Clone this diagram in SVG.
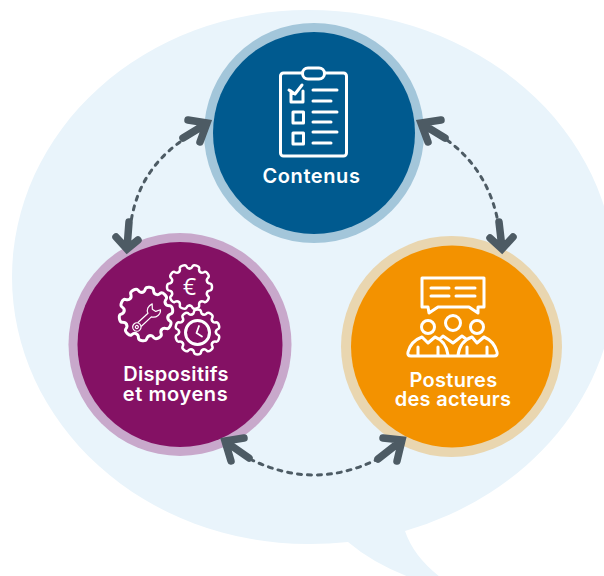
<svg xmlns="http://www.w3.org/2000/svg" xmlns:xlink="http://www.w3.org/1999/xlink" width="604" height="576" viewBox="0 0 604 576">
<style>
.lbl{font-family:Inter,"Noto Sans",sans-serif;font-weight:600;font-size:20px;letter-spacing:.3px;fill:#fff;text-anchor:middle}
.ic{fill:none;stroke:#fff;stroke-width:3;stroke-linecap:round;stroke-linejoin:round}
.thin{fill:none;stroke:#fff;stroke-width:1.2;stroke-linejoin:round}
.gear{fill:none;stroke:#fff;stroke-width:11;stroke-linecap:round;stroke-linejoin:round}
.dash{fill:none;stroke:#4d5b64;stroke-width:3;stroke-linecap:round;stroke-dasharray:4 6}
.head{fill:none;stroke:#4d5b64;stroke-width:7.5;stroke-linecap:round;stroke-linejoin:miter}
</style>
<defs>
<path id="tooth" d="M-25 -78 Q-17 -79 -15 -93 Q-13 -100 0 -100 Q13 -100 15 -93 Q17 -79 25 -78"/>
<g id="gearShape" class="gear">
<use xlink:href="#tooth" href="#tooth"/>
<use xlink:href="#tooth" href="#tooth" transform="rotate(36)"/>
<use xlink:href="#tooth" href="#tooth" transform="rotate(72)"/>
<use xlink:href="#tooth" href="#tooth" transform="rotate(108)"/>
<use xlink:href="#tooth" href="#tooth" transform="rotate(144)"/>
<use xlink:href="#tooth" href="#tooth" transform="rotate(180)"/>
<use xlink:href="#tooth" href="#tooth" transform="rotate(216)"/>
<use xlink:href="#tooth" href="#tooth" transform="rotate(252)"/>
<use xlink:href="#tooth" href="#tooth" transform="rotate(288)"/>
<use xlink:href="#tooth" href="#tooth" transform="rotate(324)"/>
</g>
</defs>
<path id="bubble" fill="#e9f4fb" d="M12 277A296 267 0 0 1 308 10A307 267 0 0 1 615 277A307 267 0 0 1 405 531Q414 558 444 580L417 580Q375 565 348 542A307 267 0 0 1 308 544A296 267 0 0 1 12 277Z"/>
<g id="node-contenus">
<circle cx="314" cy="133" r="110" fill="#a3c6da"/>
<circle cx="314" cy="133" r="101" fill="#005a8f"/>
<rect class="ic" x="280.500" y="73" width="66" height="83" rx="3"/>
<rect class="ic" x="302.500" y="68" width="22" height="11" rx="5.500" style="fill:#005a8f"/>
<path class="ic" d="M291 91V102H303V91M289 90L295 94L302 85M293 112H303.500V123H293ZM293 133H303.500V144H293ZM313 90H337M313 101H331M313 112H337M313 122H331M313 132H337M313 143H331"/>
<text class="lbl" x="311.500" y="182.500" style="letter-spacing:.6px">Contenus</text>
</g>
<g id="node-dispositifs">
<circle cx="180" cy="344.500" r="111.500" fill="#c8a8cb"/>
<circle cx="180" cy="344.500" r="102.500" fill="#841164"/>
<use xlink:href="#gearShape" href="#gearShape" transform="translate(146 314) rotate(8) scale(.27)"/>
<use xlink:href="#gearShape" href="#gearShape" transform="translate(189.500 287) rotate(18) scale(.225)"/>
<use xlink:href="#gearShape" href="#gearShape" transform="translate(197.500 332) scale(.225)"/>
<g transform="translate(146 318.500) rotate(-43)">
<path class="thin" d="M-9 -2.500H5C6 -6 10 -8 14.500 -6.500L11 -2.500L12 1.500L16.500 3.500C14 7 8 7 5 2.500H-9"/>
<circle class="thin" cx="-12.500" cy="0" r="4.200"/>
<circle class="thin" cx="-12.500" cy="0" r="1.500"/>
</g>
<text x="189.500" y="295" font-family="'Open Sans',sans-serif" font-size="23" font-weight="400" fill="#fff" text-anchor="middle">€</text>
<circle class="ic" cx="197.500" cy="332.500" r="12"/>
<path class="ic" style="stroke-width:1.800" d="M199 326L196.500 333L202 336.500"/>
<text class="lbl" x="176" y="380.500">Dispositifs</text>
<text class="lbl" x="175.500" y="400.500" style="letter-spacing:.6px">et moyens</text>
</g>
<g id="node-postures">
<circle cx="451.500" cy="346.500" r="110.500" fill="#e9d6b0"/>
<circle cx="452" cy="346.500" r="101" fill="#f39200"/>
<path class="ic" d="M422 278H484V307H478L478 313L469 307H438L429 313L428 307H422ZM431 288H449M456 288H475M431 296H449M456 296H475"/>
<circle class="ic" cx="428" cy="327" r="6.500"/>
<circle class="ic" cx="453" cy="323" r="7.500"/>
<circle class="ic" cx="477" cy="327" r="6.500"/>
<path class="ic" d="M411 356H494Q498 356 497 352Q494 341 484 337L477 343L472 337Q460 341 458 355M411 356Q407 356 408 352Q411 341 422 337L428 343L435 337Q446 341 448 355M440 339L443 336L453 343L462 336L466 339M418 347V356M438 347V356M467 347V356M487 347V356"/>
<text class="lbl" x="453.500" y="386.500">Postures</text>
<text class="lbl" x="453" y="406">des acteurs</text>
</g>
<g id="connectors">
<path class="dash" d="M180 142Q138.500 172 131 222"/>
<path class="head" d="M183 138L206 124M188 120L207 123L200 142"/>
<path class="head" d="M129 222L127 248M116 237L127 249L138 240"/>
<path class="dash" d="M447 140Q488 170 498 222"/>
<path class="head" d="M445 138L422 124M441 120L421 123L428 142"/>
<path class="head" d="M499 222L502 248M490 238L502 249L513 237"/>
<path class="dash" d="M250 459Q314 491 378 459"/>
<path class="head" d="M249 458L226 442M244 438L225 441L231 461"/>
<path class="head" d="M378 459L401 441M383 438L402 440L397 461"/>
</g>
</svg>
